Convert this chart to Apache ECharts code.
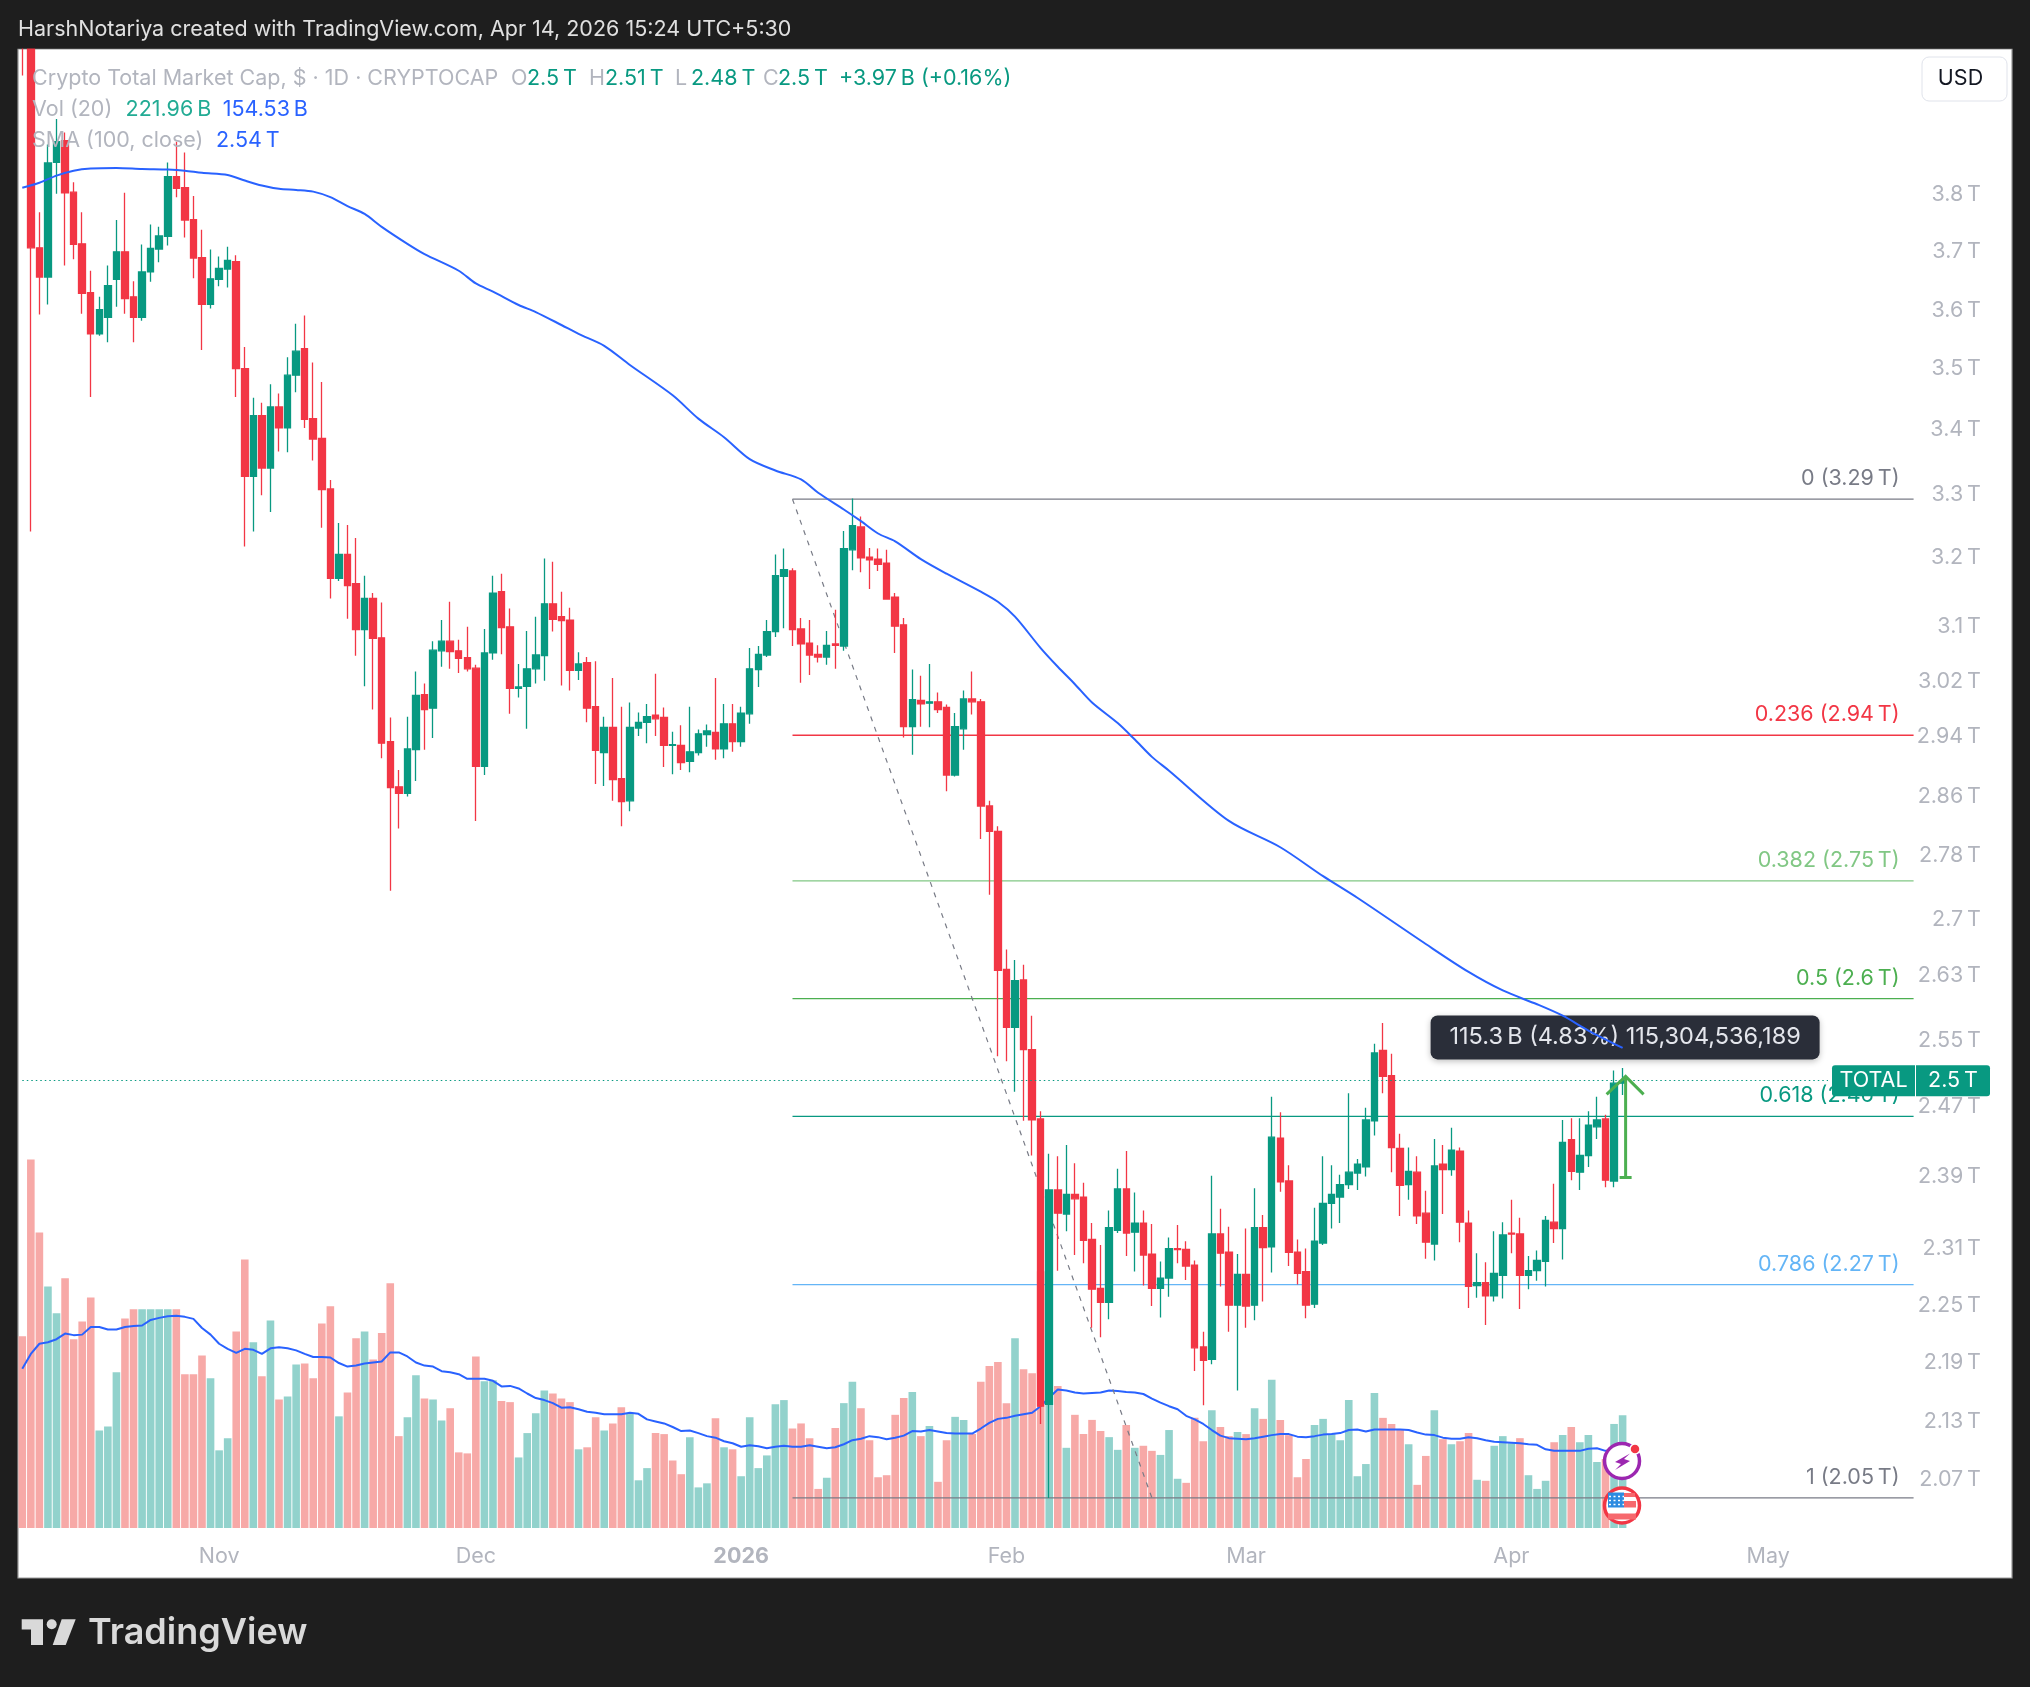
<!DOCTYPE html>
<html><head><meta charset="utf-8"><style>html,body{margin:0;padding:0;background:#1e1e1e}#c{width:2030px;height:1687px}</style>
<script src="https://cdn.jsdelivr.net/npm/echarts@6/dist/echarts.min.js"></script></head><body><div id="c"></div>
<script>
const startDay = '2025-10-09';
const totalDays = 233;
const monthLabels = {'2025-11-01':'Nov','2025-12-01':'Dec','2026-01-01':'{b|2026}','2026-02-01':'Feb','2026-03-01':'Mar','2026-04-01':'Apr','2026-05-01':'May'};
const priceTicks = [3.8,3.7,3.598,3.5,3.4,3.298,3.2,3.098,3.018,2.94,2.858,2.779,2.696,2.6255,2.546,2.467,2.387,2.307,2.246,2.186,2.126,2.068];
const opens = [4.18,4.12,3.706,3.655,3.859,3.899,3.805,3.713,3.628,3.558,
3.586,3.651,3.699,3.621,3.586,3.664,3.704,3.726,3.833,3.813,
3.756,3.689,3.608,3.651,3.669,3.682,3.5,3.326,3.423,3.339,
3.437,3.403,3.489,3.533,3.418,3.386,3.306,3.169,3.205,3.161,
3.093,3.139,3.081,2.933,2.871,2.862,2.922,2.999,2.98,3.062,
3.076,3.062,3.052,3.037,2.899,3.059,3.149,3.097,3.008,3.011,
3.036,3.055,3.131,3.112,3.107,3.034,3.045,2.982,2.918,2.953,
2.882,2.852,2.952,2.96,2.97,2.967,2.928,2.928,2.906,2.918,
2.943,2.946,2.923,2.958,2.933,2.972,3.035,3.056,3.09,3.172,
3.18,3.094,3.073,3.057,3.053,3.072,3.069,3.212,3.247,3.201,
3.198,3.192,3.141,3.1,2.954,2.991,2.987,2.989,2.981,2.887,
2.951,2.993,2.989,2.845,2.811,2.633,2.562,2.62,2.535,2.453,
2.143,2.372,2.345,2.367,2.364,2.317,2.264,2.249,2.327,2.373,
2.325,2.335,2.301,2.264,2.275,2.307,2.306,2.289,2.202,2.189,
2.323,2.303,2.246,2.279,2.246,2.33,2.309,2.431,2.382,2.303,
2.282,2.247,2.313,2.357,2.364,2.378,2.391,2.398,2.451,2.534,
2.504,2.419,2.378,2.392,2.346,2.312,2.401,2.395,2.416,2.335,
2.267,2.27,2.256,2.278,2.324,2.323,2.278,2.283,2.293,2.336,
2.329,2.429,2.392,2.411,2.444,2.453,2.382,2.495];
const closes = [4.12,3.706,3.655,3.858,3.897,3.804,3.712,3.627,3.558,3.599,
3.64,3.699,3.618,3.586,3.664,3.705,3.727,3.833,3.812,3.755,
3.688,3.608,3.652,3.67,3.684,3.5,3.326,3.423,3.339,3.437,
3.403,3.489,3.529,3.417,3.385,3.305,3.169,3.205,3.158,3.093,
3.139,3.08,2.931,2.87,2.862,2.923,2.998,2.978,3.063,3.076,
3.061,3.051,3.036,2.899,3.059,3.147,3.096,3.008,3.01,3.036,
3.056,3.131,3.108,3.106,3.034,3.043,2.98,2.921,2.953,2.881,
2.851,2.953,2.96,2.968,2.965,2.928,2.929,2.904,2.919,2.944,
2.948,2.923,2.958,2.933,2.973,3.036,3.057,3.09,3.173,3.182,
3.093,3.072,3.056,3.053,3.07,3.07,3.214,3.249,3.2,3.197,
3.19,3.138,3.098,2.954,2.992,2.986,2.989,2.978,2.887,2.954,
2.993,2.989,2.845,2.811,2.632,2.562,2.619,2.535,2.452,2.141,
2.372,2.346,2.367,2.362,2.316,2.263,2.249,2.33,2.373,2.324,
2.335,2.3,2.264,2.275,2.307,2.306,2.288,2.201,2.188,2.323,
2.302,2.246,2.279,2.245,2.33,2.308,2.432,2.381,2.303,2.28,
2.246,2.315,2.357,2.367,2.378,2.392,2.401,2.452,2.531,2.503,
2.42,2.377,2.393,2.343,2.314,2.399,2.395,2.417,2.336,2.266,
2.27,2.256,2.28,2.322,2.323,2.278,2.283,2.294,2.338,2.329,
2.426,2.393,2.411,2.446,2.452,2.383,2.495,2.498];
const lows = [4.021,3.24,3.591,3.608,3.802,3.675,3.686,3.592,3.453,3.555,
3.544,3.604,3.592,3.544,3.58,3.647,3.681,3.71,3.796,3.724,
3.653,3.531,3.601,3.639,3.637,3.453,3.217,3.24,3.296,3.27,
3.365,3.364,3.461,3.403,3.351,3.246,3.139,3.165,3.109,3.055,
3.011,2.978,2.91,2.733,2.815,2.858,2.879,2.922,2.938,3.039,
3.036,3.03,3.032,2.825,2.887,3.049,3.057,2.972,2.995,2.951,
3.015,3.019,3.09,3.012,3.005,3.02,2.96,2.875,2.872,2.852,
2.818,2.838,2.941,2.931,2.941,2.898,2.888,2.894,2.891,2.914,
2.926,2.908,2.91,2.919,2.926,2.958,3.01,3.053,3.082,3.095,
3.069,3.016,3.027,3.045,3.042,3.036,3.062,3.181,3.178,3.153,
3.18,3.137,3.059,2.939,2.915,2.954,2.953,2.973,2.865,2.885,
2.922,2.971,2.801,2.728,2.527,2.521,2.485,2.451,2.411,2.123,
2.05,2.283,2.326,2.3,2.291,2.222,2.212,2.231,2.324,2.299,
2.282,2.267,2.245,2.233,2.255,2.291,2.273,2.177,2.142,2.184,
2.266,2.218,2.157,2.222,2.23,2.25,2.281,2.37,2.288,2.268,
2.232,2.243,2.311,2.329,2.335,2.373,2.372,2.387,2.434,2.483,
2.392,2.343,2.361,2.334,2.296,2.294,2.345,2.388,2.314,2.243,
2.254,2.225,2.25,2.253,2.302,2.242,2.263,2.272,2.266,2.313,
2.295,2.383,2.372,2.398,2.43,2.375,2.375,2.481];
const highs = [4.22,4.15,3.769,3.892,3.939,3.914,3.823,3.769,3.666,3.621,
3.675,3.755,3.804,3.648,3.712,3.747,3.743,3.859,3.897,3.877,
3.798,3.738,3.703,3.691,3.708,3.693,3.536,3.452,3.444,3.474,
3.459,3.519,3.575,3.589,3.51,3.478,3.32,3.253,3.25,3.23,
3.173,3.147,3.133,2.967,2.894,2.968,3.032,3.015,3.076,3.107,
3.134,3.078,3.097,3.042,3.094,3.173,3.176,3.124,3.043,3.091,
3.112,3.199,3.194,3.149,3.125,3.06,3.053,3.047,2.968,3.023,
2.982,2.988,2.974,2.986,3.029,2.981,2.947,2.956,2.982,2.95,
2.957,3.023,2.986,2.986,2.982,3.066,3.069,3.107,3.205,3.214,
3.184,3.11,3.107,3.07,3.091,3.122,3.241,3.291,3.263,3.215,
3.214,3.212,3.147,3.11,3.035,3.026,3.043,3.002,2.985,2.973,
3.005,3.032,2.993,2.852,2.818,2.658,2.645,2.639,2.576,2.462,
2.413,2.41,2.423,2.402,2.38,2.335,2.311,2.349,2.396,2.416,
2.369,2.349,2.334,2.293,2.319,2.333,2.315,2.294,2.218,2.388,
2.351,2.331,2.301,2.329,2.374,2.344,2.479,2.461,2.4,2.317,
2.307,2.352,2.41,2.4,2.389,2.483,2.407,2.466,2.542,2.567,
2.53,2.436,2.42,2.41,2.371,2.43,2.423,2.443,2.42,2.349,
2.302,2.292,2.326,2.336,2.361,2.341,2.299,2.305,2.343,2.379,
2.452,2.454,2.454,2.462,2.479,2.458,2.51,2.513];
const volumeB = [378,726,582,476,423,492,372,407,454,192,
200,307,413,431,431,431,431,431,431,303,
303,340,295,153,177,387,529,366,299,409,
253,259,322,324,295,403,437,220,267,374,
387,332,384,482,181,218,301,255,253,212,
236,149,147,338,289,291,250,248,139,187,
226,271,265,255,248,155,159,218,192,206,
238,226,94,118,187,185,133,106,179,80,
88,216,159,155,102,218,118,143,244,252,
196,206,177,77,99,197,246,288,236,173,
100,104,223,256,268,181,201,91,173,219,
213,185,288,319,327,246,374,313,305,506,
495,280,158,223,185,213,191,179,154,203,
158,162,152,144,193,97,89,217,171,232,
199,181,189,185,236,215,292,213,183,100,
136,203,215,185,173,252,102,126,266,217,
205,195,165,85,142,232,175,165,171,187,
95,93,162,181,167,177,104,77,93,169,
183,199,169,183,130,136,205,222];
const volumeDir = ('ddduuddddu'+'uudduuuudd'+'dduuuddudu'+'duuddddudd'+'udddduuduu'+'dddduudduu'+'uuddduddud'+'duuudddduu'+'ududuuuuuu'+'dddduduudd'+'ddddududdu'+'uddddduddd'+'ududddduud'+'udduuudddu'+'ddudududdd'+'duuuuuuuud'+'dduddududd'+'uduuuduuud'+'uduuuduu').split('');
const volumeSma = [314,343,363,366,372,383,380,381,396,396,
391,391,396,398,399,410,414,417,418,416,
412,394,381,363,353,345,353,351,343,354,
356,354,350,343,337,337,336,325,318,320,
324,326,328,346,346,338,326,320,318,309,
307,303,294,294,294,290,279,280,275,265,
256,252,246,237,238,234,229,227,224,224,
224,227,225,214,210,206,199,191,192,187,
181,178,171,167,160,163,161,157,160,162,
160,160,163,160,157,159,165,173,176,181,
179,175,178,182,191,190,193,190,187,186,
186,186,196,207,215,217,221,224,227,240,
257,273,271,267,265,266,267,271,270,268,
267,264,255,247,240,234,221,214,205,193,
182,177,176,175,177,180,183,185,185,180,
179,181,184,185,187,193,194,190,194,194,
194,194,193,188,184,183,178,176,176,179,
177,173,170,169,168,167,165,164,155,152,
152,152,152,156,157,152,153,154.5];
const sma100 = [[0,3.813],[2,3.822],[4,3.835],[6,3.844],[8,3.848],[11,3.849],[14,3.847],[17,3.846],[19,3.844],[21,3.84],[24,3.836],[26,3.826],[28,3.817],[30,3.811],[32,3.809],[34,3.806],[36,3.796],[38,3.78],[40,3.766],[42,3.743],[45,3.713],[47,3.695],[51,3.666],[53,3.644],[55,3.63],[58,3.607],[60,3.595],[63,3.573],[65,3.558],[68,3.538],[71,3.506],[76,3.456],[79,3.418],[82,3.388],[85,3.353],[88,3.335],[91,3.321],[93,3.3],[96,3.274],[98,3.256],[100,3.237],[102,3.225],[105,3.198],[108,3.176],[112,3.149],[114,3.134],[116,3.112],[119,3.066],[121,3.039],[123,3.014],[125,2.988],[128,2.959],[130,2.936],[132,2.912],[134,2.893],[141,2.825],[147,2.79],[152,2.752],[156,2.724],[164,2.665],[169,2.63],[173,2.607],[177,2.59],[180,2.576],[183,2.558],[187,2.537]];
const fibRatios = ['0','0.236','0.382','0.5','0.618','0.786','1'];
const fibPrices = [3.29,2.942,2.746,2.597,2.456,2.268,2.05];
const fibShown = ['3.29','2.94','2.75','2.6','2.46','2.27','2.05'];
const fibColors = ['#787b86','#f23645','#81c784','#4caf50','#089981','#64b5f6','#787b86'];
const fibFrom = 90, fibTo = 221, trendTo = 132;
const lastClose = 2.498, lastCloseEndDay = 211;
const measure = {day:187, low:2.386, high:2.503, text:'115.3\u2009B (4.83%) 115,304,536,189'};

const days=[];const t0=Date.parse(startDay+'T00:00:00Z');
for(let i=0;i<totalDays;i++){days.push(new Date(t0+i*864e5).toISOString().slice(0,10));}
const UP='#089981',DOWN='#f23645',BLUE='#2962ff',GREY='#b2b5be',FONT='Inter, "Noto Sans", sans-serif',FS=21.5;
const candles=opens.map((o,i)=>[o,closes[i],lows[i],highs[i]]);
const T=s=>s+'\u2009T';
const tickText=v=>T(String(Number((+v).toFixed(2))));
const fibSeries=fibPrices.map((p,k)=>({type:'line',xAxisIndex:0,yAxisIndex:0,z:2,silent:true,symbol:'none',
 lineStyle:{color:fibColors[k],width:1.3},
 data:[[days[fibFrom],p],{value:[days[fibTo],p],symbol:'circle',symbolSize:0.01,
  label:{show:true,position:'left',distance:14,offset:[0,-20.5],formatter:fibRatios[k]+' ('+T(fibShown[k])+')',color:fibColors[k],fontFamily:FONT,fontSize:FS}}]}));
const txt=(x,y,text,fill,o={})=>({type:'text',z:100,x,y,silent:true,style:Object.assign({text,fill,font:FS+'px '+FONT,textVerticalAlign:'middle'},o)});
const shape=(type,z,sh,style)=>({type,z,silent:true,shape:sh,style});
const option={animation:false,backgroundColor:'#1e1e1e',
 grid:{left:18,right:18,top:49,bottom:159},
 xAxis:{type:'category',data:days,boundaryGap:true,axisLine:{show:false},axisTick:{show:false},splitLine:{show:false},
  axisLabel:{interval:0,margin:18,color:GREY,fontFamily:FONT,fontSize:FS,formatter:v=>monthLabels[v]||'',rich:{b:{fontWeight:'bold',color:GREY,fontFamily:FONT,fontSize:FS}}}},
 yAxis:[{type:'log',logBase:10,min:2.021,max:4.072,position:'right',axisLine:{show:false},axisTick:{show:false},splitLine:{show:false},
   axisLabel:{inside:true,margin:31,customValues:priceTicks,color:GREY,fontFamily:FONT,fontSize:FS,formatter:tickText}},
  {type:'value',min:0,max:2914,show:false,splitLine:{show:false}}],
 series:[
  {type:'bar',yAxisIndex:1,z:1,barWidth:7.6,silent:true,data:volumeB.map((v,i)=>({value:v,itemStyle:{color:volumeDir[i]==='u'?'#92d2cc':'#f7a9a7'}}))},
  {type:'line',yAxisIndex:1,z:1.5,symbol:'none',silent:true,lineStyle:{color:BLUE,width:2},data:volumeSma.map((v,i)=>[days[i],v])},
  ...fibSeries,
  {type:'line',yAxisIndex:0,z:2,symbol:'none',silent:true,lineStyle:{color:'#787b86',width:1.2,type:[5,6]},data:[[days[fibFrom],fibPrices[0]],[days[trendTo],fibPrices[6]]]},
  {type:'custom',yAxisIndex:0,z:2.5,silent:true,clip:false,data:[[days[measure.day],measure.high]],encode:{x:0,y:1},
   renderItem:(p,api)=>{const c=api.coord([api.value(0),api.value(1)]);return{type:'group',children:[
    {type:'rect',shape:{x:c[0]-192,y:c[1]-61,width:389,height:44,r:7},style:{fill:'#2a2e39',shadowBlur:6,shadowColor:'rgba(0,0,0,.25)',shadowOffsetY:2}},
    {type:'text',style:{x:c[0]+2.5,y:c[1]-39,text:measure.text,fill:'#e4e6ec',font:'23.5px '+FONT,textAlign:'center',textVerticalAlign:'middle'}}]};}},
  {type:'candlestick',yAxisIndex:0,z:3,barWidth:7,silent:true,itemStyle:{color:UP,color0:DOWN,borderColor:UP,borderColor0:DOWN,borderWidth:1.3},data:candles,
   markLine:{silent:true,symbol:'none',label:{show:false},lineStyle:{color:UP,type:[1.5,3],width:1.2},data:[[{xAxis:days[0],yAxis:lastClose},{xAxis:days[lastCloseEndDay],yAxis:lastClose}]]}},
  {type:'line',yAxisIndex:0,z:4,symbol:'none',smooth:0.3,silent:true,lineStyle:{color:BLUE,width:2},data:sma100.map(([i,v])=>[days[i],v])},
  {type:'custom',yAxisIndex:0,z:5,silent:true,clip:false,data:[[days[measure.day],measure.low,measure.high]],encode:{x:0,y:[1,2]},
   renderItem:(p,api)=>{const a=api.coord([api.value(0),api.value(1)]),b=api.coord([api.value(0),api.value(2)]);
    const s={stroke:'#4caf50',lineWidth:3,fill:null},dx=3;
    return{type:'group',children:[
     {type:'line',shape:{x1:a[0]+dx,y1:a[1],x2:b[0]+dx,y2:b[1]},style:s},
     {type:'line',shape:{x1:a[0]+dx-6,y1:a[1],x2:a[0]+dx+6,y2:a[1]},style:s},
     {type:'polyline',shape:{points:[[b[0]+dx-19,b[1]+18],[b[0]+dx,b[1]],[b[0]+dx+18,b[1]+18]]},style:s}]};}},
  {type:'custom',yAxisIndex:0,z:6,silent:true,clip:false,data:[[days[0],lastClose]],encode:{x:0,y:1},
   renderItem:(p,api)=>{const c=api.coord([api.value(0),api.value(1)]);const y=c[1];return{type:'group',children:[
    {type:'rect',shape:{x:1832,y:y-15.5,width:83,height:31,r:[3,0,0,3]},style:{fill:UP}},
    {type:'rect',shape:{x:1916,y:y-15.5,width:74,height:31,r:[0,3,3,0]},style:{fill:UP}},
    {type:'text',style:{x:1873.5,y:y,text:'TOTAL',fill:'#fff',font:FS+'px '+FONT,textAlign:'center',textVerticalAlign:'middle'}},
    {type:'text',style:{x:1953,y:y,text:T('2.5'),fill:'#fff',font:FS+'px '+FONT,textAlign:'center',textVerticalAlign:'middle'}}]};}}
 ],
 graphic:{elements:[
  shape('rect',-5,{x:18,y:49,width:1994,height:1529},{fill:'#fff',stroke:'#9a9a9a',lineWidth:1.2}),
  shape('rect',50,{x:0,y:0,width:2030,height:48.4},{fill:'#1e1e1e'}),
  txt(18,29.5,'HarshNotariya created with TradingView.com, Apr 14, 2026 15:24 UTC+5:30','#e0e0e0'),
  txt(32,79,'Crypto Total Market Cap, $ \u00b7 1D \u00b7 CRYPTOCAP',GREY),
  txt(511,79,'O',GREY),txt(527,79,T('2.5'),UP),
  txt(589,79,'H',GREY),txt(605,79,T('2.51'),UP),
  txt(675,79,'L',GREY),txt(691,79,T('2.48'),UP),
  txt(763,79,'C',GREY),txt(778,79,T('2.5'),UP),
  txt(839,79,'+3.97\u2009B (+0.16%)',UP),
  txt(32,110,'Vol (20)',GREY),txt(125.6,110,'221.96\u2009B','#22ab94'),txt(222.7,110,'154.53\u2009B',BLUE),
  txt(32,141,'SMA (100, close)',GREY),txt(216,141,T('2.54'),BLUE),
  shape('rect',100,{x:1922,y:57,width:85,height:44,r:7},{fill:'#fff',stroke:'#e0e3eb',lineWidth:1}),
  txt(1960.5,79,'USD','#131722',{textAlign:'center'}),
  // event icons
  shape('circle',100,{cx:1622,cy:1461,r:17.5},{fill:'#fff',stroke:'#9c27b0',lineWidth:3.5}),
  shape('polygon',101,{points:[[1630,1453.5],[1615,1462],[1621,1464],[1615,1470],[1630,1461],[1624,1459]]},{fill:'#9c27b0'}),
  shape('circle',102,{cx:1635,cy:1449,r:5},{fill:'#f23645',stroke:'#fff',lineWidth:1.5}),
  shape('circle',100,{cx:1622,cy:1505.5,r:17.5},{fill:'#fff',stroke:'#f23645',lineWidth:3.5}),
  shape('rect',101,{x:1624,y:1493,width:11,height:4},{fill:'#f6686d'}),
  shape('rect',101,{x:1624,y:1501,width:12,height:6.5},{fill:'#f6686d'}),
  shape('rect',101,{x:1608,y:1513.5,width:28,height:6},{fill:'#f6686d'}),
  shape('rect',101,{x:1608,y:1492.5,width:16,height:15},{fill:'#2e8be0'}),
  shape('line',102,{x1:1609,y1:1496.5,x2:1624,y2:1496.5},{stroke:'#fff',lineWidth:1.5,lineDash:[2,2.5]}),
  shape('line',102,{x1:1609,y1:1500.5,x2:1624,y2:1500.5},{stroke:'#fff',lineWidth:1.5,lineDash:[2,2.5]}),
  shape('line',102,{x1:1609,y1:1504.5,x2:1624,y2:1504.5},{stroke:'#fff',lineWidth:1.5,lineDash:[2,2.5]}),
  // brand
  shape('polygon',100,{points:[[21.7,1619.3],[43,1619.3],[43,1645],[31,1645],[31,1629.5],[21.7,1629.5]]},{fill:'#d9d9d9'}),
  shape('circle',100,{cx:51.7,cy:1624.3,r:5},{fill:'#d9d9d9'}),
  shape('polygon',100,{points:[[61.7,1619.3],[75.7,1619.3],[65.7,1645],[52.7,1645]]},{fill:'#d9d9d9'}),
  txt(88,1633,'TradingView','#d9d9d9',{font:'600 36px '+FONT})
 ]}
};
echarts.init(document.getElementById('c'),null,{renderer:'canvas'}).setOption(option);
</script></body></html>
